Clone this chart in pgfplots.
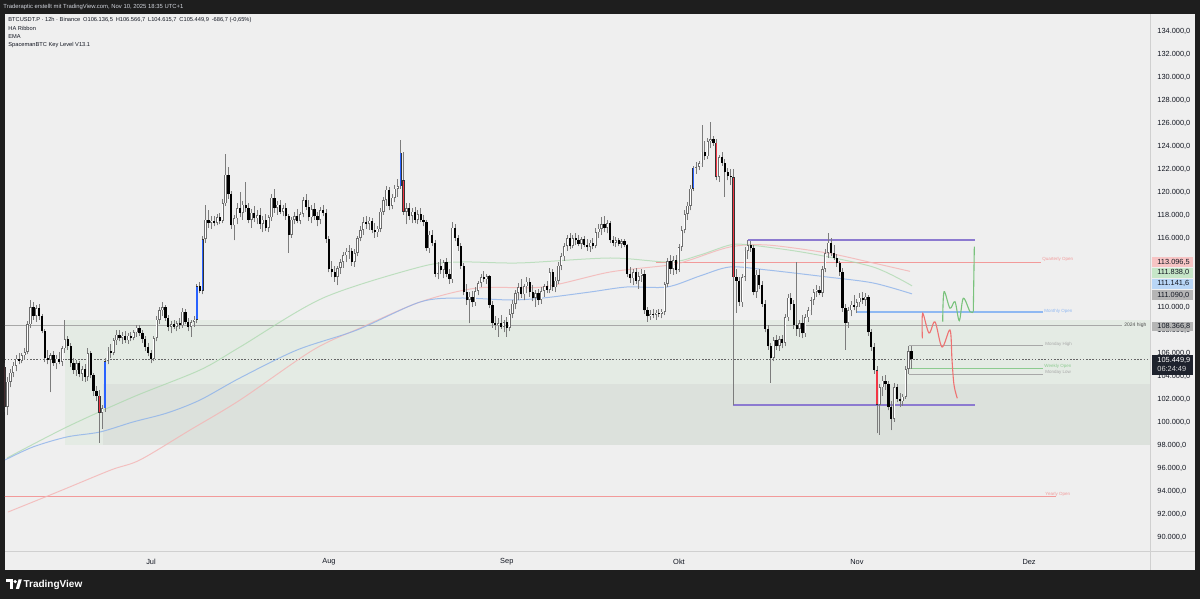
\documentclass[border=0pt]{standalone}
\usepackage{fontspec}
\setmainfont{Liberation Sans}
\usepackage{pgfplots}
\usepackage{pgfplotstable}
\pgfplotsset{compat=1.18}
\definecolor{frame}{HTML}{1E1E1E}
\definecolor{panel}{HTML}{EFEFEF}
\definecolor{tvtext}{HTML}{131722}
\definecolor{headtxt}{HTML}{D1D4DC}
\definecolor{sep}{HTML}{D0D0D0}
\definecolor{zoneA}{HTML}{E4EBE4}
\definecolor{zoneB}{HTML}{DCE1DC}
\definecolor{wickc}{HTML}{7C7C7C}
\definecolor{upline}{HTML}{6E6E6E}
\definecolor{cblue}{HTML}{2962FF}
\definecolor{cred}{HTML}{F23645}
\definecolor{emablue}{HTML}{8DB2EA}
\definecolor{emagreen}{HTML}{A9D8AB}
\definecolor{emapink}{HTML}{F4B4B4}
\definecolor{lvlpink}{HTML}{F29A9A}
\definecolor{lvlblue}{HTML}{8FB8F2}
\definecolor{lvlgreen}{HTML}{8CCB8F}
\definecolor{lvlgray}{HTML}{A8A8A8}
\definecolor{purp}{HTML}{8C7AD0}
\definecolor{projred}{HTML}{EE7272}
\definecolor{projgreen}{HTML}{79C27C}
\definecolor{labpink}{HTML}{F7C4C4}
\definecolor{labgreen}{HTML}{C6E6C8}
\definecolor{labblue}{HTML}{B9D6F6}
\definecolor{labgray}{HTML}{B5B5B5}
\definecolor{labdark}{HTML}{1E222D}
\newcommand\fs[1]{\fontsize{#1pt}{#1pt}\selectfont}

% 12h candles from 2025-06-05 12:00 (day -25.5, day 0 = Jul 1); prices in thousand USDT
% k: 0 down, 1 up, 2 blue (HA up), 3 red (HA down)
\pgfplotstableread{
o h l c k
104.8 105.1 100.9 101.3 3
101.3 103.9 100.6 103.5 1
103.5 104.6 103.0 104.3 1
104.3 105.2 103.9 104.9 1
104.9 105.8 104.4 105.5 1
105.5 106.0 105.0 105.3 0
105.3 106.0 105.1 105.8 1
105.8 106.4 105.4 106.1 1
106.1 108.8 105.9 108.5 1
108.5 110.6 108.2 110.0 1
110.0 110.4 108.9 109.2 0
109.2 110.2 108.7 109.9 1
109.9 110.3 108.9 109.2 0
109.2 109.4 107.7 107.9 0
107.9 108.1 105.2 105.6 0
105.6 106.3 105.0 105.4 0
105.4 106.0 102.6 105.8 1
105.8 106.2 104.9 105.1 0
105.1 105.8 104.6 105.5 1
105.5 106.1 105.0 105.2 0
105.2 106.6 104.9 106.4 1
106.4 108.9 106.0 107.2 1
107.2 107.5 106.3 106.6 0
106.6 106.9 104.8 105.1 0
105.1 105.6 104.2 104.5 0
104.5 105.4 104.0 105.1 1
105.1 105.3 103.9 104.2 0
104.2 104.9 103.6 104.6 1
104.6 105.0 103.5 103.9 0
103.9 106.4 103.6 106.0 1
106.0 106.2 103.8 104.1 0
104.1 104.3 102.3 102.7 0
102.7 103.1 101.8 102.3 0
102.3 102.8 98.2 100.8 3
100.8 101.5 99.4 101.2 1
101.2 105.6 100.9 105.3 2
105.3 106.5 105.0 106.2 1
106.2 106.8 105.6 106.0 0
106.0 107.3 105.8 107.1 1
107.1 108.0 106.7 107.6 1
107.6 108.0 107.0 107.3 0
107.3 107.8 106.8 107.5 1
107.5 107.9 106.9 107.1 0
107.1 107.7 106.8 107.5 1
107.5 107.8 107.0 107.3 0
107.3 108.0 107.1 107.8 1
107.8 108.4 107.4 108.2 1
108.2 108.4 107.5 107.7 0
107.7 108.0 106.9 107.2 0
107.2 107.5 106.2 106.5 0
106.5 106.9 105.7 106.0 0
106.0 106.3 105.1 105.5 0
105.5 107.5 105.3 107.3 1
107.3 109.2 107.0 108.9 1
108.9 110.0 108.5 109.7 1
109.7 110.4 109.2 110.0 1
110.0 110.2 108.8 109.0 0
109.0 109.3 107.9 108.3 0
108.3 108.8 107.7 108.5 1
108.5 108.9 108.1 108.3 0
108.3 108.8 107.9 108.6 1
108.6 109.0 108.1 108.4 0
108.4 109.9 108.2 109.6 1
109.6 109.8 108.5 108.7 0
108.7 109.0 107.9 108.3 0
108.3 108.9 107.4 108.7 1
108.7 109.2 108.3 108.9 1
108.9 112.0 108.6 111.8 2
111.8 112.2 111.2 111.4 0
111.4 116.2 111.1 115.9 2
115.9 118.9 115.6 117.6 1
117.6 118.4 116.9 117.3 0
117.3 117.9 116.8 117.5 1
117.5 117.9 117.0 117.3 0
117.3 118.1 117.1 117.8 1
117.8 118.2 117.2 117.5 0
117.5 119.4 117.3 119.0 1
119.0 123.3 118.8 121.5 1
121.5 122.2 119.4 119.8 0
119.8 120.1 116.8 117.1 0
117.1 118.0 115.8 117.7 1
117.7 119.0 117.2 118.6 1
118.6 120.0 117.8 118.2 0
118.2 119.2 117.6 118.9 1
118.9 120.9 118.3 118.6 0
118.6 119.0 117.3 117.6 0
117.6 118.5 116.9 118.2 1
118.2 118.8 117.4 117.7 0
117.7 118.4 117.2 118.0 1
118.0 118.6 116.8 117.2 0
117.2 117.9 116.5 117.6 1
117.6 118.1 116.6 116.9 0
116.9 118.0 116.5 117.8 1
117.8 119.8 117.5 119.5 1
119.5 120.3 118.2 118.6 0
118.6 119.2 118.0 118.9 1
118.9 119.3 118.1 118.3 0
118.3 118.9 117.9 118.6 1
118.6 119.0 117.6 117.9 0
117.9 118.1 114.7 116.3 0
116.3 117.8 116.0 117.6 1
117.6 118.3 117.2 117.9 1
117.9 118.5 117.3 117.5 0
117.5 118.3 117.2 118.1 1
118.1 119.6 117.8 119.3 1
119.3 119.8 118.4 118.7 0
118.7 119.3 117.5 117.8 0
117.8 118.9 117.3 118.5 1
118.5 119.0 117.6 117.9 0
117.9 118.3 117.0 117.6 0
117.6 118.7 117.2 118.4 1
118.4 118.9 117.9 118.2 0
118.2 118.5 115.6 115.9 0
115.9 116.2 113.0 113.3 0
113.3 114.0 112.6 113.0 0
113.0 113.6 112.2 112.6 0
112.6 113.6 111.9 113.4 1
113.4 114.2 112.9 113.9 1
113.9 114.8 113.4 114.5 1
114.5 115.1 113.9 114.8 1
114.8 115.4 114.2 114.9 1
114.9 115.1 113.6 113.9 0
113.9 115.0 113.5 114.7 1
114.7 116.2 114.4 116.0 1
116.0 117.0 115.7 116.7 1
116.7 117.8 116.3 117.4 1
117.4 117.9 116.8 117.2 0
117.2 117.8 116.7 117.5 1
117.5 117.7 116.4 116.7 0
116.7 117.3 116.0 116.5 0
116.5 117.0 116.1 116.8 1
116.8 118.6 116.5 118.3 1
118.3 119.6 118.0 119.3 1
119.3 120.5 118.8 120.2 1
120.2 120.4 118.4 118.8 0
118.8 119.8 118.5 119.5 1
119.5 120.6 119.1 120.3 1
120.3 121.1 119.6 120.5 1
120.5 124.5 120.3 123.4 2
121.0 123.5 118.0 118.3 3
118.3 119.0 117.2 118.6 1
118.6 119.0 117.6 117.9 0
117.9 118.6 117.3 118.3 1
118.3 118.7 117.3 117.6 0
117.6 118.4 117.2 118.1 1
118.1 118.6 117.4 117.6 0
117.6 118.0 117.0 117.4 0
117.4 117.6 114.9 115.1 0
115.1 116.6 114.7 116.3 1
116.3 116.7 115.3 115.6 0
115.6 115.8 112.6 112.9 0
112.9 113.9 112.4 113.6 1
113.6 114.2 112.9 113.2 0
113.2 114.1 112.5 113.9 1
113.9 114.3 112.6 112.9 0
112.9 113.3 112.0 112.4 0
112.4 117.4 112.1 116.9 1
116.9 117.2 115.7 116.0 0
116.0 116.3 114.9 115.3 0
115.3 115.6 113.3 113.6 0
113.6 113.8 111.0 111.3 0
111.3 112.0 110.2 110.6 0
110.6 111.3 108.6 110.9 1
110.9 111.4 110.0 110.4 0
110.4 111.7 110.1 111.4 1
111.4 112.3 111.0 112.1 1
112.1 112.9 111.7 112.6 1
112.6 113.1 112.2 112.4 0
112.4 112.9 112.0 112.7 1
112.7 112.8 109.9 110.2 0
110.2 110.5 108.2 108.6 0
108.6 109.2 108.0 108.4 0
108.4 109.0 107.4 108.6 1
108.6 109.3 108.1 108.3 0
108.3 108.9 107.8 108.7 1
108.7 109.1 107.4 108.2 0
108.2 109.8 107.9 109.4 1
109.4 110.6 109.0 110.3 1
110.3 111.5 109.8 111.2 1
111.2 112.1 110.6 111.7 1
111.7 112.4 110.8 111.1 0
111.1 112.0 110.6 111.8 1
111.8 112.6 111.2 112.2 1
112.2 112.5 110.9 111.3 0
111.3 111.9 110.5 110.8 0
110.8 111.5 110.0 111.2 1
111.2 111.6 110.2 110.6 0
110.6 111.7 110.3 111.4 1
111.4 112.0 110.9 111.8 1
111.8 112.3 111.2 111.5 0
111.5 113.4 111.2 113.0 1
113.0 113.3 111.4 111.7 0
111.7 112.6 111.3 112.3 1
112.3 113.9 112.0 113.6 1
113.6 114.7 113.2 114.4 1
114.4 115.6 114.0 115.3 1
115.3 116.3 114.9 116.0 1
116.0 116.4 115.0 115.3 0
115.3 116.3 115.1 116.0 1
116.0 116.4 115.4 115.8 0
115.8 116.3 115.3 115.5 0
115.5 116.1 115.0 115.9 1
115.9 116.2 115.2 115.4 0
115.4 115.9 114.9 115.2 0
115.2 115.8 114.8 115.6 1
115.6 116.0 115.0 115.3 0
115.3 116.9 115.1 116.5 1
116.5 117.2 116.0 116.8 1
116.8 117.8 116.3 117.2 1
117.2 117.9 116.5 116.9 0
116.9 117.6 116.4 117.3 1
117.3 117.5 115.6 115.8 0
115.8 116.2 115.3 115.6 0
115.6 116.1 115.2 115.8 1
115.8 116.0 115.3 115.5 0
115.5 115.9 115.1 115.7 1
115.7 115.9 115.2 115.4 0
115.4 115.5 112.6 112.9 0
112.9 113.5 112.1 112.5 0
112.5 113.3 111.9 113.0 1
113.0 113.4 112.0 112.3 0
112.3 113.0 111.6 112.7 1
112.7 113.3 112.2 112.9 1
112.9 113.2 109.4 109.7 0
109.7 110.0 108.7 109.2 0
109.2 109.7 108.9 109.4 1
109.4 109.8 109.0 109.3 0
109.3 109.7 108.9 109.5 1
109.5 109.8 109.1 109.4 0
109.4 109.8 109.0 109.6 1
109.6 112.2 109.3 112.0 1
112.0 114.3 111.7 114.0 1
114.0 114.5 112.9 113.3 0
113.3 114.4 112.8 114.1 1
114.1 114.5 112.9 113.2 0
113.2 115.5 113.0 115.2 1
115.2 117.0 114.9 116.7 1
116.7 118.4 116.4 118.1 1
118.1 119.1 117.6 118.8 1
118.8 120.6 118.4 120.3 1
120.3 122.3 120.1 122.1 2
122.1 122.6 121.6 122.2 1
122.2 122.7 121.9 122.5 1
122.5 125.8 122.2 123.5 1
123.5 124.4 122.8 123.1 0
123.1 124.7 122.9 124.4 1
124.4 126.1 123.8 124.6 1
124.6 124.9 124.0 124.3 0
124.3 124.6 121.0 121.3 3
121.3 123.2 120.9 123.0 1
123.0 123.5 122.3 122.5 0
122.5 122.9 119.6 121.7 0
121.7 122.1 121.0 121.4 0
121.4 122.0 120.6 121.3 0
121.3 122.0 101.5 112.6 3
112.6 113.3 109.5 112.3 0
112.3 112.6 110.1 110.4 0
110.4 112.9 110.0 112.6 1
112.6 115.2 112.3 114.9 1
114.9 115.8 114.2 115.4 1
115.4 115.7 114.8 115.1 0
115.1 115.4 111.0 111.3 0
111.3 113.2 110.8 112.8 1
112.8 113.3 111.6 111.9 0
111.9 112.3 110.0 110.3 0
110.3 110.6 107.8 108.1 0
108.1 108.4 106.3 106.6 0
106.6 106.9 103.4 105.6 0
105.6 107.4 105.3 107.1 1
107.1 107.6 106.3 106.6 0
106.6 107.5 106.2 107.2 1
107.2 107.6 106.4 106.9 0
106.9 109.4 106.6 109.1 1
109.1 111.1 108.8 110.8 1
110.8 111.2 109.7 110.3 0
110.3 110.6 108.1 108.4 0
108.4 113.9 107.5 108.1 0
108.1 108.9 107.4 108.6 1
108.6 109.3 107.3 107.7 0
107.7 109.4 107.4 109.1 1
109.1 110.0 108.7 109.7 1
109.7 110.9 109.3 110.6 1
110.6 111.6 110.2 111.3 1
111.3 111.9 110.9 111.5 1
111.5 111.8 111.0 111.2 0
111.2 113.6 110.9 113.3 1
113.3 115.0 113.0 114.7 1
114.7 116.4 114.3 115.6 1
115.6 116.0 114.4 114.7 0
114.7 115.4 114.1 114.3 0
114.3 114.6 113.5 113.8 0
113.8 114.0 112.7 113.0 0
113.0 113.4 109.6 109.9 0
109.9 110.3 106.3 108.6 0
108.6 110.0 108.2 109.7 1
109.7 110.5 109.2 110.2 1
110.2 111.0 109.7 110.0 0
110.0 110.7 109.5 110.4 1
110.4 111.2 110.0 110.8 1
110.8 111.3 110.3 110.6 0
110.6 111.2 110.1 110.9 1
110.9 111.0 107.5 107.8 0
107.8 108.1 106.2 106.5 0
106.5 106.9 104.2 104.5 0
104.5 104.9 99.0 101.5 3
101.5 103.3 98.9 103.0 1
103.0 104.0 102.3 103.6 1
103.6 104.1 102.8 103.3 0
103.3 103.6 101.0 101.3 0
101.3 101.8 99.3 100.3 0
100.3 103.4 100.0 103.0 1
103.0 103.3 101.7 102.0 0
102.0 102.5 101.3 101.8 0
101.8 102.4 101.4 102.2 1
102.2 104.9 102.0 104.6 1
104.6 106.6 104.2 106.14 1
106.14 106.57 104.62 105.45 0
}\candles

\newcommand\bodies[4]{%
\addplot[only marks, mark size=0pt, forget plot,
  restrict expr to domain={\thisrow{k}}{#1},
  error bars/.cd, y dir=plus, y explicit, error mark=none,
  error bar style={draw=#2, line width=#3, solid}]
  table[x expr={-25.5+0.5*\coordindex},
        y expr={min(\thisrow{o},\thisrow{c})+#4},
        y error plus expr={max(abs(\thisrow{c}-\thisrow{o})-2*#4,0)}] {\candles};}

\begin{document}
\begin{tikzpicture}
\useasboundingbox (0,0) rectangle (600pt,299.5pt);
\fill[frame] (0,0) rectangle (600pt,299.5pt);
\fill[panel] (2.5pt,14.5pt) rectangle (597.5pt,292.5pt);
\node[anchor=west, inner sep=0pt, text=headtxt, font=\fs{2.95}] at (1.5pt,296pt) {Traderaptic erstellt mit TradingView.com, Nov 10, 2025 18:35 UTC+1};

\begin{axis}[
  at={(2.5pt,23.5pt)}, anchor=south west,
  scale only axis, width=572.5pt, height=269pt,
  xmin=-25.44, xmax=174.07, ymin=88.695, ymax=135.478,
  axis line style={draw=none},
  major tick length=0pt,
  xtick={0,31,62,92,123,153},
  xticklabels={Jul,Aug,Sep,Okt,Nov,Dez},
  ytick={90,92,94,96,98,100,102,104,106,108,110,112,114,116,118,120,122,124,126,128,130,132,134},
  yticklabels={{90.000,0},{92.000,0},{94.000,0},{96.000,0},{98.000,0},{100.000,0},{102.000,0},{104.000,0},{106.000,0},{108.000,0},{110.000,0},{112.000,0},{114.000,0},{116.000,0},{118.000,0},{120.000,0},{122.000,0},{124.000,0},{126.000,0},{128.000,0},{130.000,0},{132.000,0},{134.000,0}},
  yticklabel pos=right,
  xticklabel style={font=\fs{3.7}, text=tvtext, anchor=center, inner sep=0pt, yshift=-5pt},
  yticklabel style={font=\fs{3.7}, text=tvtext, anchor=west, inner sep=0pt, xshift=3.5pt},
]
% zones
\fill[zoneA] (axis cs:-15,98.0) rectangle (axis cs:180,108.87);
\fill[zoneB] (axis cs:-8.36,98.0) rectangle (axis cs:180,103.30);
% key levels
\draw[lvlgray, line width=0.45pt] (axis cs:-30,108.367) -- (axis cs:169.19,108.367);
\node[anchor=west, inner sep=0pt, font=\fs{2.5}, text=black!70] at (axis cs:169.54,108.39) {2024 high};
\draw[lvlpink, line width=0.5pt] (axis cs:-30,93.48) -- (axis cs:157.69,93.48);
\node[anchor=west, inner sep=0pt, font=\fs{2.25}, text=lvlpink] at (axis cs:155.78,93.74) {Yearly Open};
\draw[lvlpink, line width=0.5pt] (axis cs:88,113.91) -- (axis cs:155.08,113.91);
\node[anchor=west, inner sep=0pt, font=\fs{2.25}, text=lvlpink] at (axis cs:155.25,114.15) {Quarterly Open};
\draw[lvlblue, line width=0.8pt] (axis cs:123,109.56) -- (axis cs:155.43,109.56);
\node[anchor=west, inner sep=0pt, font=\fs{2.25}, text=lvlblue] at (axis cs:155.6,109.65) {Monthly Open};
\draw[lvlgray, line width=0.5pt] (axis cs:132,106.61) -- (axis cs:155.43,106.61);
\node[anchor=west, inner sep=0pt, font=\fs{2.25}, text=lvlgray] at (axis cs:155.78,106.78) {Monday High};
\draw[lvlgreen, line width=0.5pt] (axis cs:132,104.61) -- (axis cs:155.43,104.61);
\node[anchor=west, inner sep=0pt, font=\fs{2.25}, text=lvlgreen] at (axis cs:155.6,104.80) {Weekly Open};
\draw[lvlgray, line width=0.5pt] (axis cs:132,104.17) -- (axis cs:155.43,104.17);
\node[anchor=west, inner sep=0pt, font=\fs{2.25}, text=lvlgray] at (axis cs:155.78,104.33) {Monday Low};
% box of the Oct 10 range
\draw[purp, line width=0.6pt] (axis cs:104.0,115.83) -- (axis cs:143.6,115.83);
\draw[purp, line width=0.6pt] (axis cs:101.4,101.48) -- (axis cs:143.6,101.48);
% current price
\draw[black!60, line width=0.4pt, dash pattern=on 0.8pt off 0.8pt] (axis cs:-30,105.45) -- (axis cs:180,105.45);
% EMAs
\addplot[smooth, tension=0.5, emapink, line width=0.5pt, opacity=0.8] coordinates {(-24.92,92.17) (-15.86,94.0) (-6.97,95.83) (-1.92,96.70) (6.80,99.30) (15.51,101.91) (28.23,106.26) (36.42,108.17) (46.87,110.43) (56.80,111.65) (68.30,111.74) (79.98,113.04) (90.43,113.65) (93.92,114.09) (100.89,115.22) (107.34,115.39) (117.79,114.70) (125.81,113.83) (132.25,113.10)};
\addplot[smooth, tension=0.5, emagreen, line width=0.5pt, opacity=0.7] coordinates {(-25.09,96.87) (-14.64,99.57) (-3.14,102.17) (8.54,104.52) (15.51,106.52) (29.97,110.78) (46.87,113.48) (53.84,113.91) (64.30,113.83) (79.98,114.26) (90.43,113.91) (95.66,114.52) (100.89,115.39) (104.37,115.39) (114.30,114.70) (125.81,113.48) (132.6,111.84)};
\addplot[smooth, tension=0.5, emablue, line width=0.5pt, opacity=0.8] coordinates {(-25.44,96.70) (-20.56,97.83) (-14.64,98.70) (-8.89,99.13) (-3.14,100.00) (2.79,100.78) (8.54,101.91) (15.51,103.83) (25.44,106.26) (35.89,108.00) (46.87,110.43) (53.84,110.78) (62.55,110.61) (68.30,110.78) (76.49,111.30) (82.94,111.74) (89.91,111.74) (95.66,112.70) (100.89,113.48) (107.34,113.22) (117.79,112.61) (125.81,112.09) (132.6,111.14)};
% candles: wicks
\addplot[only marks, mark size=0pt, forget plot,
  error bars/.cd, y dir=plus, y explicit, error mark=none,
  error bar style={draw=wickc, line width=0.45pt, solid}]
  table[x expr={-25.5+0.5*\coordindex}, y=l, y error plus expr={\thisrow{h}-\thisrow{l}}] {\candles};
% bodies
\bodies{-0.5:0.5}{black}{1.15pt}{0}
\bodies{0.5:1.5}{upline}{1.15pt}{0}
\bodies{0.5:1.5}{white}{0.5pt}{0.06}
\bodies{1.5:2.5}{black!80}{1.15pt}{0}
\bodies{1.5:2.5}{cblue}{0.75pt}{0.05}
\bodies{2.5:3.5}{black!80}{1.15pt}{0}
\bodies{2.5:3.5}{cred}{0.75pt}{0.05}
% projections
\addplot[smooth, tension=0.55, projred, line width=0.55pt] coordinates {(134.40,107.28) (134.46,109.45) (135.56,107.74) (136.61,108.70) (137.83,106.52) (139.22,108.0) (139.57,105.39) (139.92,103.22) (140.49,102.06)};
\addplot[smooth, tension=0.55, projgreen, line width=0.55pt] coordinates {(137.95,108.72) (138.18,111.33) (139.22,109.89) (140.09,110.46) (140.84,108.81) (141.54,110.76) (142.71,109.59) (143.28,109.59)};
\addplot[projgreen, line width=0.55pt] coordinates {(143.28,109.59) (143.46,115.24)};
\end{axis}

% separators
\draw[sep, line width=0.5pt] (575pt,14.5pt) -- (575pt,292.5pt);
\draw[sep, line width=0.5pt] (2.5pt,23.5pt) -- (597.5pt,23.5pt);

% price scale labels
\fill[labpink] (575.9pt,166.1pt) rectangle (596.7pt,170.9pt);
\node[anchor=west, inner sep=0pt, font=\fs{3.7}, text=tvtext] at (578.5pt,168.5pt) {113.096,5};
\fill[labgreen] (575.9pt,160.7pt) rectangle (596.7pt,165.5pt);
\node[anchor=west, inner sep=0pt, font=\fs{3.7}, text=tvtext] at (578.5pt,163.1pt) {111.838,0};
\fill[labblue] (575.9pt,155.2pt) rectangle (596.7pt,160.0pt);
\node[anchor=west, inner sep=0pt, font=\fs{3.7}, text=tvtext] at (578.5pt,157.6pt) {111.141,6};
\fill[labgray] (575.9pt,149.6pt) rectangle (596.7pt,154.4pt);
\node[anchor=west, inner sep=0pt, font=\fs{3.7}, text=tvtext] at (578.5pt,152pt) {111.090,0};
\fill[labgray] (575.9pt,133.75pt) rectangle (596.7pt,138.55pt);
\node[anchor=west, inner sep=0pt, font=\fs{3.7}, text=tvtext] at (578.5pt,136.15pt) {108.366,8};
\fill[labdark] (575.9pt,112pt) rectangle (596.7pt,122pt);
\node[anchor=west, inner sep=0pt, font=\fs{3.7}, text=white] at (578.5pt,119.5pt) {105.449,9};
\node[anchor=west, inner sep=0pt, font=\fs{3.7}, text=white!85!black] at (578.5pt,114.85pt) {06:24:49};

% legend
\node[anchor=west, inner sep=0pt, font=\fs{2.85}, text=tvtext] at (4pt,289.5pt) {BTCUSDT.P · 12h · Binance\enspace O106.136,5\enspace H106.566,7\enspace L104.615,7\enspace C105.449,9\enspace -686,7 (-0,65\%)};
\node[anchor=west, inner sep=0pt, font=\fs{2.85}, text=tvtext] at (4pt,285.25pt) {HA Ribbon};
\node[anchor=west, inner sep=0pt, font=\fs{2.85}, text=tvtext] at (4pt,281pt) {EMA};
\node[anchor=west, inner sep=0pt, font=\fs{2.85}, text=tvtext] at (4pt,276.75pt) {SpacemanBTC Key Level V13.1};

% TradingView logo
\fill[white] (3pt,8.4pt) rectangle (6.4pt,9.8pt);
\fill[white] (4.8pt,5pt) rectangle (6.4pt,9.8pt);
\fill[white] (7.6pt,8.7pt) circle (0.9pt);
\fill[white] (7.9pt,5pt) -- (9.5pt,5pt) -- (10.9pt,9.8pt) -- (9.3pt,9.8pt) -- cycle;
\node[anchor=west, inner sep=0pt, font=\fs{5}\bfseries, text=white] at (11.6pt,7.2pt) {TradingView};
\end{tikzpicture}
\end{document}
